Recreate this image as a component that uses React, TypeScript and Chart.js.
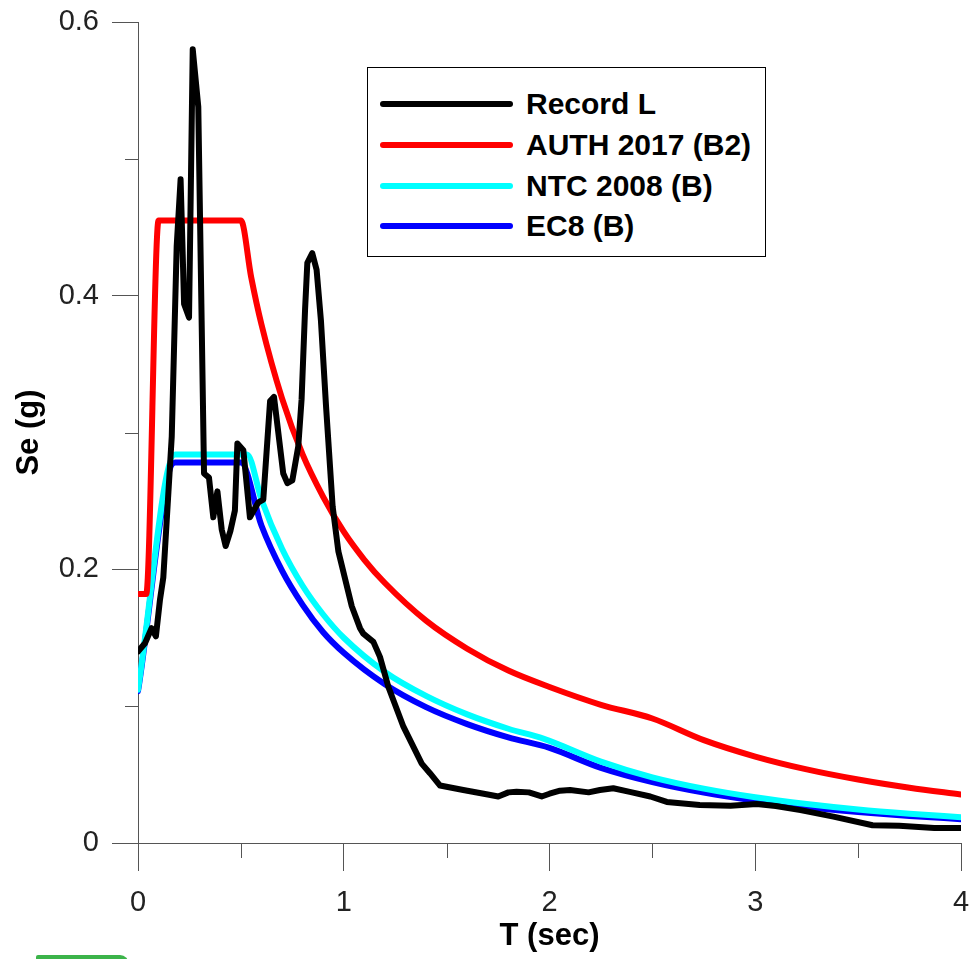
import React, { useEffect, useRef } from 'react';
import { Chart, registerables } from 'chart.js';

Chart.register(...registerables);

// ---- Data ----
const recordT = [0, 0.034, 0.066, 0.087, 0.107, 0.123, 0.164, 0.188, 0.207, 0.224, 0.248, 0.266, 0.293, 0.321, 0.345, 0.366, 0.386, 0.407, 0.426, 0.449, 0.471, 0.483, 0.512, 0.544, 0.585, 0.609, 0.642, 0.661, 0.706, 0.726, 0.75, 0.779, 0.795, 0.812, 0.823, 0.847, 0.868, 0.889, 0.914, 0.946, 0.974, 1.039, 1.079, 1.095, 1.144, 1.176, 1.217, 1.29, 1.379, 1.419, 1.468, 1.581, 1.7, 1.751, 1.8, 1.84, 1.9, 1.962, 2.0, 2.051, 2.1, 2.19, 2.245, 2.31, 2.39, 2.49, 2.57, 2.73, 2.88, 3.007, 3.1, 3.22, 3.38, 3.57, 3.7, 3.87, 4.0];
const recordSe = [0.140, 0.146, 0.157, 0.151, 0.178, 0.194, 0.297, 0.436, 0.485, 0.394, 0.384, 0.580, 0.538, 0.270, 0.267, 0.238, 0.257, 0.229, 0.217, 0.228, 0.243, 0.292, 0.287, 0.238, 0.249, 0.251, 0.323, 0.326, 0.270, 0.263, 0.265, 0.290, 0.324, 0.390, 0.424, 0.431, 0.419, 0.382, 0.319, 0.246, 0.213, 0.173, 0.157, 0.153, 0.147, 0.136, 0.114, 0.085, 0.058, 0.051, 0.042, 0.0387, 0.0355, 0.034, 0.037, 0.0375, 0.037, 0.034, 0.036, 0.0382, 0.0387, 0.037, 0.0387, 0.040, 0.0374, 0.034, 0.030, 0.0278, 0.0273, 0.0285, 0.027, 0.024, 0.0193, 0.013, 0.0126, 0.011, 0.011];

const authT = [0, 0.04, 0.1, 0.5, 0.55, 0.6, 0.7, 0.8, 0.9, 1.0, 1.1, 1.2, 1.4, 1.6, 1.8, 2.0, 2.25, 2.5, 2.75, 3.0, 3.25, 3.5, 3.75, 4.0];
const authSe = [0.182, 0.182, 0.455, 0.455, 0.4136, 0.379, 0.325, 0.284, 0.253, 0.2275, 0.207, 0.190, 0.1625, 0.142, 0.126, 0.114, 0.101, 0.091, 0.0752, 0.0632, 0.0538, 0.0464, 0.0404, 0.0355];

const ntcT = [0, 0.18, 0.53, 0.6, 0.7, 0.8, 0.9, 1.0, 1.2, 1.4, 1.6, 1.8, 1.97, 2.25, 2.5, 2.75, 3.0, 3.25, 3.5, 3.75, 4.0];
const ntcSe = [0.112, 0.284, 0.284, 0.251, 0.215, 0.188, 0.167, 0.150, 0.125, 0.1075, 0.094, 0.0835, 0.0763, 0.0595, 0.048, 0.0397, 0.0334, 0.0285, 0.0245, 0.0214, 0.0188];

const ec8T = [0, 0.18, 0.5, 0.6, 0.7, 0.8, 0.9, 1.0, 1.2, 1.4, 1.6, 1.8, 2.0, 2.25, 2.5, 2.75, 3.0, 3.25, 3.5, 3.75, 4.0];
const ec8Se = [0.111, 0.278, 0.278, 0.232, 0.199, 0.174, 0.154, 0.139, 0.116, 0.0993, 0.0869, 0.0772, 0.0695, 0.0549, 0.0445, 0.0368, 0.0309, 0.0263, 0.0227, 0.0198, 0.0174];

const seriesNames = ['Record L', 'AUTH 2017 (B2)', 'NTC 2008 (B)', 'EC8 (B)'];
const seriesColors = ['#000000', '#ff0000', '#00ffff', '#0000ff'];

const xMajorLabels = ['0', '1', '2', '3', '4'];
const yMajorLabels = ['0', '0.2', '0.4', '0.6'];
const xMinorTicks = [0.5, 1.5, 2.5, 3.5];
const yMinorTicks = [0.1, 0.3, 0.5];

const xTitle = 'T (sec)';
const yTitle = 'Se (g)';

const W = 971;
const H = 959;
const AXIS_COLOR = '#555555';
const FONT = '"Liberation Sans", Arial, sans-serif';

const toPoints = (xs: number[], ys: number[]) => xs.map((x, i) => ({ x, y: ys[i] }));

const clearScalePadding = (s: any) => {
  s.paddingTop = 0;
  s.paddingBottom = 0;
  s.paddingLeft = 0;
  s.paddingRight = 0;
};

const minorTickPlugin = {
  id: 'minorTicks',
  afterDraw(chart: any) {
    const { ctx, chartArea, scales } = chart;
    ctx.save();
    ctx.strokeStyle = AXIS_COLOR;
    ctx.lineWidth = 1;
    for (const v of xMinorTicks) {
      const px = Math.round(scales.x.getPixelForValue(v)) + 0.5;
      ctx.beginPath();
      ctx.moveTo(px, chartArea.bottom);
      ctx.lineTo(px, chartArea.bottom + 15);
      ctx.stroke();
    }
    for (const v of yMinorTicks) {
      const py = Math.round(scales.y.getPixelForValue(v)) + 0.5;
      ctx.beginPath();
      ctx.moveTo(chartArea.left, py);
      ctx.lineTo(chartArea.left - 13, py);
      ctx.stroke();
    }
    ctx.restore();
  },
};

export default function App() {
  const canvasRef = useRef<HTMLCanvasElement | null>(null);

  useEffect(() => {
    if (!canvasRef.current) return;
    const series = [
      toPoints(recordT, recordSe),
      toPoints(authT, authSe),
      toPoints(ntcT, ntcSe),
      toPoints(ec8T, ec8Se),
    ];
    const chart = new Chart(canvasRef.current, {
      type: 'line',
      data: {
        datasets: series.map((data, i) => ({
          label: seriesNames[i],
          data,
          borderColor: seriesColors[i],
          backgroundColor: seriesColors[i],
          borderWidth: 6,
          pointRadius: 0,
          pointHoverRadius: 0,
          fill: false,
          tension: i === 0 ? 0 : 0.4,
          cubicInterpolationMode: i === 0 ? 'default' : 'monotone',
          borderCapStyle: 'round',
          borderJoinStyle: 'round',
        })),
      },
      options: {
        animation: false,
        responsive: false,
        maintainAspectRatio: false,
        events: [],
        layout: { padding: { top: 22, right: 10, left: 0, bottom: 0 } },
        plugins: {
          legend: { display: false },
          tooltip: { enabled: false },
        },
        scales: {
          x: {
            type: 'linear',
            min: 0,
            max: 4,
            afterFit: (s: any) => { s.height = 116; clearScalePadding(s); },
            border: { display: true, color: AXIS_COLOR, width: 1 },
            grid: {
              display: true,
              drawOnChartArea: false,
              drawTicks: true,
              tickLength: 28,
              tickWidth: 1,
              tickColor: (ctx: any) => (ctx.index % 2 === 0 ? AXIS_COLOR : 'rgba(0,0,0,0)'),
            },
            ticks: {
              stepSize: 0.5,
              autoSkip: false,
              maxRotation: 0,
              padding: 15,
              color: '#222222',
              font: { family: FONT, size: 29, weight: 'normal' },
              callback: (v: any) => {
                const i = Math.round(Number(v) * 2);
                return i % 2 === 0 ? xMajorLabels[i / 2] : '';
              },
            },
            title: {
              display: true,
              text: xTitle,
              color: '#000000',
              font: { family: FONT, size: 31, weight: 'bold' },
              padding: { top: 0, bottom: 4 },
            },
          },
          y: {
            type: 'linear',
            min: 0,
            max: 0.6,
            afterFit: (s: any) => { s.width = 138; clearScalePadding(s); },
            border: { display: true, color: AXIS_COLOR, width: 1 },
            grid: {
              display: true,
              drawOnChartArea: false,
              drawTicks: true,
              tickLength: 26,
              tickWidth: 1,
              tickColor: (ctx: any) => (ctx.index % 2 === 0 ? AXIS_COLOR : 'rgba(0,0,0,0)'),
            },
            ticks: {
              stepSize: 0.1,
              autoSkip: false,
              padding: 13,
              color: '#222222',
              font: { family: FONT, size: 29, weight: 'normal' },
              callback: (v: any) => {
                const i = Math.round(Number(v) * 10);
                return i % 2 === 0 ? yMajorLabels[i / 2] : '';
              },
            },
            title: {
              display: true,
              text: yTitle,
              color: '#000000',
              font: { family: FONT, size: 31, weight: 'bold' },
              padding: { top: 11, bottom: 0 },
            },
          },
        },
      },
      plugins: [minorTickPlugin],
    } as any);
    return () => chart.destroy();
  }, []);

  const rowY = [104, 145, 186, 226];

  return (
    <div style={{ position: 'absolute', left: 0, top: 0, width: W, height: H, overflow: 'hidden', background: '#ffffff' }}>
      <canvas ref={canvasRef} width={W} height={H} style={{ display: 'block', width: W, height: H }} />
      <div
        style={{
          position: 'absolute',
          left: 367,
          top: 67,
          width: 399,
          height: 190,
          border: '1px solid #000',
          boxSizing: 'border-box',
          background: '#ffffff',
        }}
      />
      {seriesNames.map((name, i) => (
        <React.Fragment key={name}>
          <div
            style={{
              position: 'absolute',
              left: 380,
              top: rowY[i] - 3,
              width: 133,
              height: 6,
              borderRadius: 3,
              background: seriesColors[i],
            }}
          />
          <span
            style={{
              position: 'absolute',
              left: 526,
              top: rowY[i] - 15,
              font: `bold 30px ${FONT}`,
              lineHeight: '30px',
              whiteSpace: 'nowrap',
              color: '#000',
            }}
          >
            {name}
          </span>
        </React.Fragment>
      ))}
      <div
        style={{
          position: 'absolute',
          left: 36,
          top: 955,
          width: 93,
          height: 10,
          background: '#3cb44a',
          borderTopLeftRadius: 2,
          borderTopRightRadius: 9,
        }}
      />
    </div>
  );
}
